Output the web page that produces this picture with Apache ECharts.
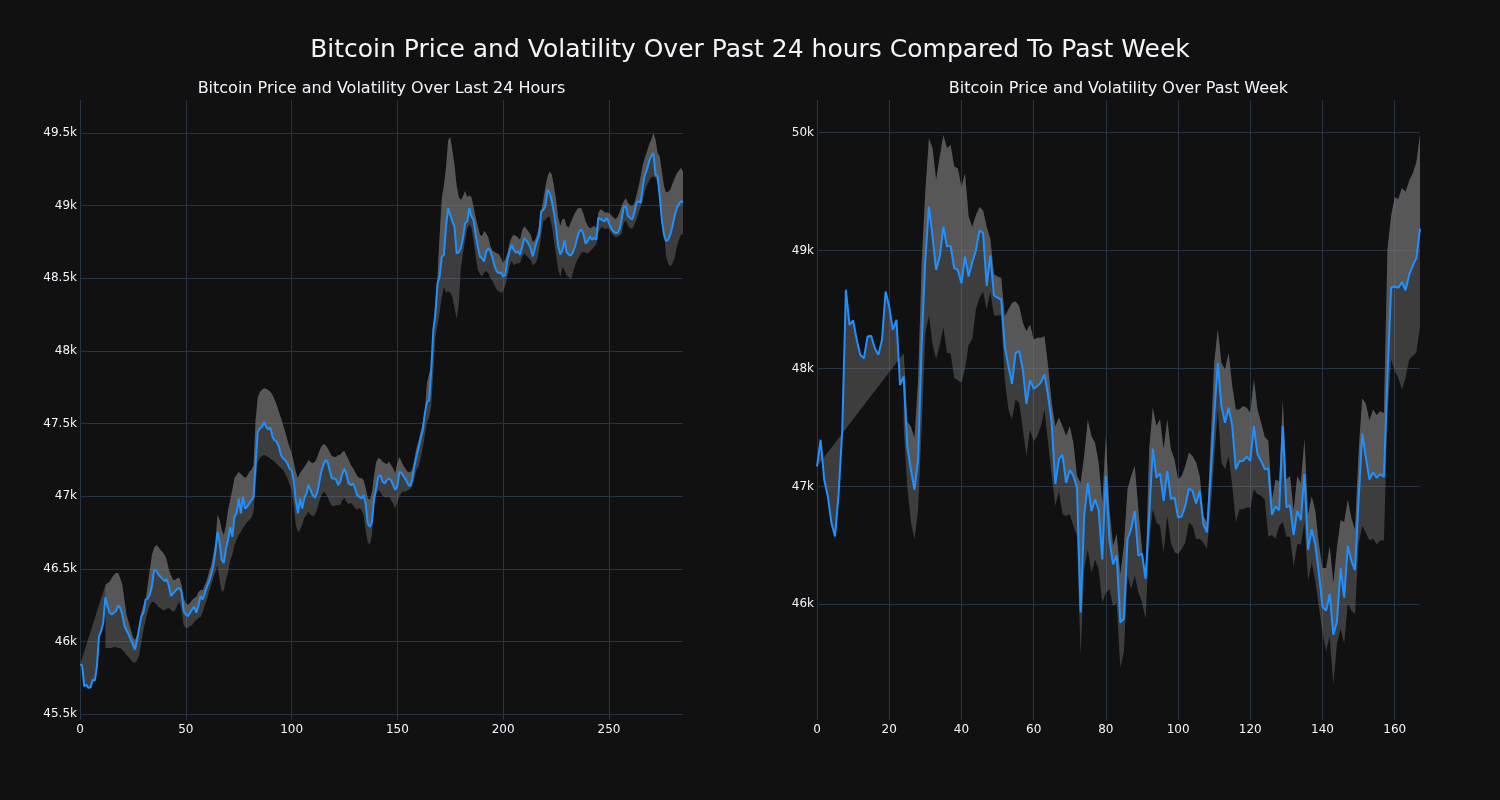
<!DOCTYPE html>
<html><head><meta charset="utf-8">
<script src="https://cdn.jsdelivr.net/npm/echarts@6/dist/echarts.min.js"></script>
<style>html,body{margin:0;padding:0;background:#111111;}#c{width:1500px;height:800px;}</style>
</head><body><div id="c"></div>
<script>
const mainTitle = "Bitcoin Price and Volatility Over Past 24 hours Compared To Past Week";
const dayTitle = "Bitcoin Price and Volatility Over Last 24 Hours";
const weekTitle = "Bitcoin Price and Volatility Over Past Week";

// ---- Last 24 hours (index 0..285) ----
const dayPrice = [45840,45836,45691,45702,45680,45684,45737,45730,45829,46036,
46070,46128,46305,46243,46197,46185,46197,46208,46247,46231,
46185,46105,46077,46047,46013,45978,45944,46013,46093,46174,
46197,46289,46293,46323,46381,46491,46489,46461,46445,46431,
46415,46427,46381,46312,46330,46346,46362,46369,46339,46208,
46185,46174,46197,46220,46238,46197,46247,46312,46289,46330,
46378,46410,46460,46520,46620,46753,46680,46560,46541,46640,
46700,46789,46720,46858,46881,46984,46881,46995,46915,46927,
46950,46972,46991,47225,47443,47466,47477,47512,47477,47459,
47473,47408,47385,47374,47340,47282,47259,47248,47225,47190,
47179,47110,46972,46881,46984,46915,46984,47018,47076,47041,
47007,46989,47018,47087,47167,47213,47248,47236,47179,47122,
47122,47115,47076,47099,47156,47190,47145,47087,47076,47087,
47053,47007,46995,46984,47007,46950,46812,46789,46823,46984,
47053,47133,47145,47099,47087,47110,47122,47110,47076,47044,
47067,47170,47158,47135,47112,47083,47067,47112,47204,47273,
47330,47399,47457,47571,47651,47656,47869,48145,48259,48466,
48512,48649,48661,48856,48982,48936,48890,48856,48672,48677,
48707,48776,48879,48890,48982,48925,48902,48798,48718,48649,
48638,48615,48684,48707,48684,48638,48581,48546,48535,48539,
48512,48523,48626,48684,48730,48695,48677,48684,48661,48718,
48776,48760,48737,48707,48649,48707,48760,48800,48960,48970,
49000,49110,49087,49030,48950,48850,48720,48663,48690,48761,
48680,48663,48656,48679,48720,48777,48823,48835,48800,48738,
48755,48789,48766,48777,48766,48915,48908,48899,48892,48915,
48881,48846,48823,48812,48812,48835,48904,48991,48995,48927,
48915,48904,48950,49018,49030,49018,49133,49213,49248,49305,
49340,49362,49213,49202,49064,48904,48800,48755,48766,48800,
48858,48927,48980,49007,49030,49023];

const dayUpper = [null,null,null,null,null,null,null,null,null,null,
null,null,46388,46402,46409,46436,46457,46471,46471,46436,
46388,46285,46182,46133,46078,46030,46009,46044,46078,46202,
46250,46285,46388,46491,46595,46643,46664,46650,46629,46615,
46595,46560,46491,46457,46423,46423,46436,46436,46388,46299,
46264,46250,46264,46285,46299,46306,46340,46354,46354,46388,
46423,46478,46526,46595,46684,46870,46836,46767,46732,46801,
46905,46973,47042,47125,47146,47166,47152,47139,47125,47139,
47166,47180,47214,47524,47676,47717,47731,47745,47738,47731,
47717,47696,47662,47627,47579,47538,47490,47442,47386,47338,
47297,47235,47166,47125,47159,47180,47201,47221,47249,47235,
47228,47235,47263,47304,47338,47359,47352,47331,47304,47276,
47269,47269,47283,47283,47304,47311,47276,47249,47214,47194,
47166,47139,47125,47125,47111,47056,46987,46973,47028,47146,
47235,47263,47256,47235,47228,47220,47239,47215,47190,47158,
47230,47270,47235,47205,47185,47165,47165,47181,47250,47330,
47380,47440,47500,47580,47780,47840,47900,48150,48351,48520,
48800,49050,49140,49260,49450,49470,49380,49280,49140,49060,
49039,49062,49100,49060,49070,49060,48990,48920,48860,48800,
48790,48825,48810,48780,48718,48690,48680,48672,48665,48640,
48604,48630,48672,48740,48780,48799,48790,48780,48764,48830,
48856,48840,48820,48799,48750,48760,48800,48860,48960,49040,
49133,49200,49236,49213,49133,49040,48920,48860,48908,48908,
48860,48850,48885,48920,48950,48977,48985,48980,48940,48890,
48860,48845,48850,48862,48845,48950,48975,48966,48950,48952,
48950,48935,48920,48908,48920,48950,48995,49030,49050,49020,
49000,48995,49015,49070,49130,49200,49280,49330,49374,49420,
49454,49500,49454,49362,49339,49236,49133,49090,49095,49110,
49150,49185,49220,49240,49259,49235];

const dayLower = [null,null,null,null,null,null,null,null,null,null,
null,null,45954,45954,45954,45954,45961,45961,45954,45954,
45941,45927,45906,45892,45872,45858,45851,45872,45906,45996,
46078,46147,46202,46250,46271,46271,46257,46237,46230,46216,
46216,46223,46230,46216,46202,46216,46250,46271,46216,46113,
46092,46092,46106,46113,46133,46147,46161,46168,46202,46250,
46285,46340,46388,46436,46478,46526,46423,46340,46354,46423,
46478,46560,46595,46664,46698,46732,46753,46781,46801,46822,
46836,46849,46891,47077,47235,47263,47276,47283,47276,47269,
47256,47249,47235,47221,47207,47194,47180,47152,47125,47084,
47042,46939,46801,46753,46767,46801,46849,46870,46891,46870,
46863,46870,46905,46960,47001,47028,47022,46994,46960,46932,
46932,46939,46939,46939,46973,46987,46960,46946,46953,46939,
46918,46905,46918,46905,46870,46767,46684,46664,46732,46939,
47008,47042,47028,47001,46994,46990,46995,46975,46950,46917,
46960,47000,47025,47032,47032,47040,47050,47067,47120,47180,
47204,47260,47330,47420,47510,47540,47620,47850,48099,48180,
48270,48370,48440,48400,48410,48400,48370,48300,48220,48320,
48560,48672,48760,48840,48870,48850,48760,48650,48560,48530,
48512,48540,48550,48535,48500,48480,48450,48420,48409,48400,
48410,48450,48512,48580,48620,48590,48600,48604,48604,48650,
48672,48655,48640,48626,48590,48600,48625,48690,48800,48890,
48904,48920,48927,48860,48760,48660,48560,48509,48578,48555,
48520,48509,48491,48540,48590,48624,48650,48675,48681,48675,
48670,48685,48700,48716,48730,48810,48845,48853,48835,48845,
48840,48815,48795,48784,48784,48795,48807,48880,48897,48860,
48845,48839,48870,48900,48950,48990,49030,49100,49140,49170,
49195,49200,49190,49156,49050,48960,48835,48650,48600,48583,
48600,48640,48710,48760,48801,48801];

// ---- Past week (index 0..167) ----
const weekPrice = [47169,47395,47056,46915,46689,46576,46943,47480,48667,48370,
48407,48243,48116,48087,48271,48277,48172,48116,48243,48653,
48525,48328,48412,47861,47932,47339,47141,46972,47226,48215,
48921,49373,49119,48836,48949,49203,49034,49040,48850,48836,
48723,48949,48780,48900,49000,49170,49150,48700,48960,48620,
48600,48585,48190,48020,47870,48130,48150,47990,47700,47900,
47830,47850,47880,47950,47770,47540,47020,47230,47270,47030,
47140,47090,46990,45930,46750,47030,46790,46890,46800,46380,
47090,46540,46340,46415,45845,45880,46553,46640,46793,46412,
46430,46215,46751,47320,47075,47110,46878,47131,46892,46906,
46737,46745,46835,46982,46962,46855,46962,46680,46610,47089,
47597,48048,47681,47540,47667,47512,47146,47216,47216,47253,
47216,47512,47272,47216,47146,47152,46760,46829,46798,47512,
46823,46839,46588,46792,46714,47105,46463,46635,46510,46260,
45978,45947,46088,45743,45853,46307,46056,46495,46369,46291,
46886,47449,47246,47058,47120,47073,47105,47080,47950,48685,
48695,48685,48732,48663,48795,48873,48936,49186];

const weekUpper = [null,null,null,null,null,null,null,null,null,null,
null,null,null,null,null,null,null,null,null,null,
null,null,null,null,48130,47551,47508,47410,47900,48900,
49500,49952,49867,49599,49797,49980,49867,49895,49712,49698,
49542,49655,49288,49200,49300,49370,49340,49200,49100,48800,
48780,48770,48443,48500,48556,48570,48528,48387,48316,48373,
48246,48260,48260,48274,48020,47709,47511,47582,47511,47427,
47511,47370,47088,47031,47257,47568,47427,47370,47200,46862,
47427,46805,46494,46600,46250,46500,46976,47089,47174,46807,
46469,46243,47315,47667,47512,47569,47315,47569,47315,47230,
47061,47089,47174,47287,47258,47202,47089,46751,46695,47371,
48048,48330,48048,47992,48133,47851,47653,47653,47681,47667,
47625,47907,47653,47540,47418,47387,46886,47058,47042,47731,
47058,47089,46792,47089,47027,47402,46760,46917,46792,46510,
46307,46307,46494,46181,46479,46714,46698,46886,46729,46635,
47293,47746,47700,47559,47652,47605,47637,47621,49014,49296,
49452,49437,49531,49499,49593,49656,49750,49984];

const weekLower = [null,null,null,null,null,null,null,null,null,null,
null,null,null,null,null,null,null,null,null,null,
null,null,null,null,47500,47000,46700,46548,46800,47500,
48300,48450,48200,48080,48200,48350,48130,48130,47920,47900,
47880,48000,48200,48250,48500,48600,48650,48500,48650,48450,
48450,48450,47907,47653,47568,47737,47709,47483,47257,47483,
47384,47427,47511,47653,47370,47088,46833,46960,46763,46749,
46763,46664,46579,45562,46297,46466,46268,46381,46297,46014,
46099,46127,45986,46014,45460,45600,46243,46130,46243,46102,
46017,45877,46525,46807,46694,46666,46441,46751,46525,46441,
46426,46469,46525,46694,46666,46553,46553,46525,46469,46807,
47230,47653,47202,47146,47258,47005,46694,46807,46807,46821,
46821,46976,46934,46920,46886,46573,46588,46557,46667,46698,
46573,46573,46322,46510,46510,46698,46197,46354,46197,45978,
45759,45602,45727,45320,45665,45790,45665,46009,45947,45915,
46510,46667,46604,46541,46557,46510,46541,46541,47606,48075,
47981,47919,47825,47919,48075,48106,48138,48357];

const FILL = 'rgba(128,128,128,0.4)';
const TXT = '#f2f5fa';
const GRIDC = '#283442';
const FONT = 'DejaVu Sans';

function bandRenderer(price, upper, lower) {
  return function (params, api) {
    const pPts = price.map((v, i) => api.coord([i, v]));
    const idx = [];
    upper.forEach((v, i) => { if (v != null) idx.push(i); });
    const uPts = idx.map(i => api.coord([i, upper[i]]));
    const lPts = idx.map(i => api.coord([i, lower[i]]));
    const poly1 = pPts.concat(uPts.slice().reverse());
    const poly2 = uPts.concat(lPts.slice().reverse());
    return {
      type: 'group',
      children: [
        { type: 'polygon', shape: { points: poly2 }, style: { fill: FILL } },
        { type: 'polygon', shape: { points: poly1 }, style: { fill: FILL } }
      ]
    };
  };
}

function kfmt(v) { return (Math.round(v / 100) / 10) + 'k'; }

const labelStyle = { color: TXT, fontSize: 12, fontFamily: FONT };

function xAx(gi, max, interval) {
  return {
    type: 'value', gridIndex: gi, min: 0, max: max, interval: interval,
    axisLine: { show: false }, axisTick: { show: false },
    axisLabel: Object.assign({ margin: 4, showMaxLabel: false }, labelStyle),
    splitLine: { show: true, showMaxLine: false, lineStyle: { color: GRIDC, width: 1 } }
  };
}
function yAx(gi, min, max, splitNumber) {
  return {
    type: 'value', gridIndex: gi, min: min, max: max, splitNumber: splitNumber,
    axisLine: { show: false }, axisTick: { show: false },
    axisLabel: Object.assign({ margin: 3, showMinLabel: false, showMaxLabel: false, formatter: kfmt }, labelStyle),
    splitLine: { show: true, showMinLine: false, showMaxLine: false, lineStyle: { color: GRIDC, width: 1 } }
  };
}

const chart = echarts.init(document.getElementById('c'), null, { renderer: 'canvas' });
chart.setOption({
  backgroundColor: '#111111',
  animation: false,
  grid: [
    { left: 80, top: 100, width: 603, height: 620 },
    { left: 817, top: 100, width: 603, height: 620 }
  ],
  xAxis: [xAx(0, dayPrice.length - 1, 50), xAx(1, weekPrice.length - 1, 20)],
  yAxis: [yAx(0, 45459, 49727, 8), yAx(1, 45019, 50277, 5)],
  graphic: [
    { type: 'text', x: 750, y: 50, style: { text: mainTitle, fill: TXT, font: '25px "DejaVu Sans"', textAlign: 'center', textVerticalAlign: 'middle' } },
    { type: 'text', x: 381.5, y: 89, style: { text: dayTitle, fill: TXT, font: '16px "DejaVu Sans"', textAlign: 'center', textVerticalAlign: 'middle' } },
    { type: 'text', x: 1118.5, y: 89, style: { text: weekTitle, fill: TXT, font: '16px "DejaVu Sans"', textAlign: 'center', textVerticalAlign: 'middle' } }
  ],
  series: [
    { type: 'custom', xAxisIndex: 0, yAxisIndex: 0, silent: true, z: 1,
      data: [[0, dayPrice[0]]], renderItem: bandRenderer(dayPrice, dayUpper, dayLower) },
    { type: 'line', xAxisIndex: 0, yAxisIndex: 0, z: 3, silent: true,
      data: dayPrice.map((v, i) => [i, v]), showSymbol: false,
      lineStyle: { color: '#1e90ff', width: 2 } },
    { type: 'custom', xAxisIndex: 1, yAxisIndex: 1, silent: true, z: 1,
      data: [[0, weekPrice[0]]], renderItem: bandRenderer(weekPrice, weekUpper, weekLower) },
    { type: 'line', xAxisIndex: 1, yAxisIndex: 1, z: 3, silent: true,
      data: weekPrice.map((v, i) => [i, v]), showSymbol: false,
      lineStyle: { color: '#1e90ff', width: 2 } }
  ]
});
</script></body></html>
